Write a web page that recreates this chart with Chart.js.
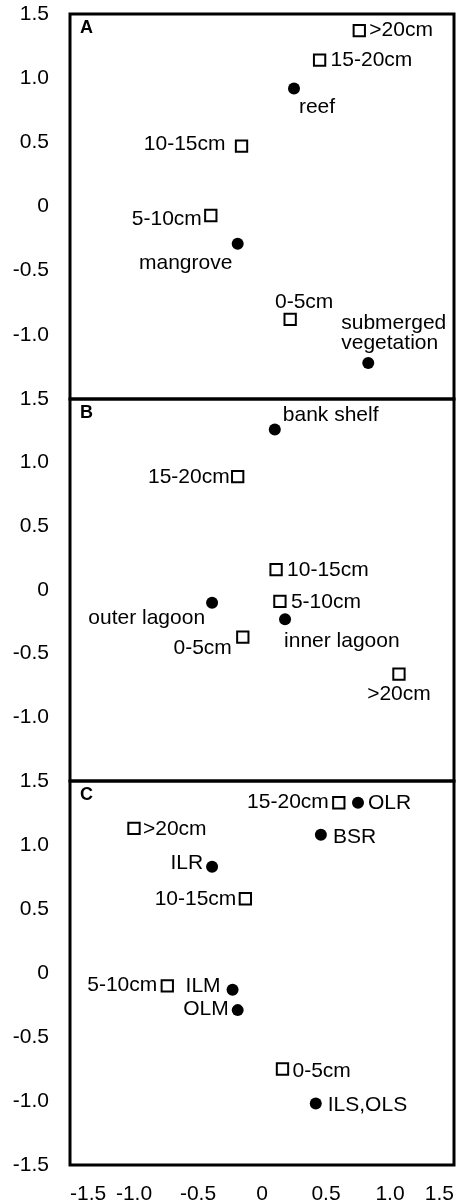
<!DOCTYPE html>
<html>
<head>
<meta charset="utf-8">
<script src="https://cdn.jsdelivr.net/npm/chart.js@4.4.0/dist/chart.umd.min.js"></script>
<style>
    body { margin: 0; background: #fff; }
    #wrap { position: relative; width: 464px; height: 1204px; overflow: hidden; }
    canvas { position: absolute; left: 0; }
</style>
</head>
<body>
<div id="wrap">
    <canvas id="chartA" width="464" height="420" style="top:0px"></canvas>
    <canvas id="chartB" width="464" height="420" style="top:380px"></canvas>
    <canvas id="chartC" width="464" height="442" style="top:762px"></canvas>
</div>
<script>
// axes
const xTicks = [-1.5, -1.0, -0.5, 0, 0.5, 1.0, 1.5];
const xTickLabels = ["-1.5", "-1.0", "-0.5", "0", "0.5", "1.0", "1.5"];
const yTicks = [-1.5, -1.0, -0.5, 0, 0.5, 1.0, 1.5];
const yTickLabels = ["-1.5", "-1.0", "-0.5", "0", "0.5", "1.0", "1.5"];

const depthLabels = ["0-5cm", "5-10cm", "10-15cm", "15-20cm", ">20cm"];

// panel A
const depthAx = [0.22, -0.40, -0.16, 0.45, 0.76];
const depthAy = [-0.88, -0.07, 0.47, 1.14, 1.37];
const habitatA = ["reef", "mangrove", "submerged\nvegetation"];
const habitatAx = [0.25, -0.19, 0.83];
const habitatAy = [0.92, -0.29, -1.22];

// panel B
const depthBx = [-0.15, 0.14, 0.11, -0.19, 1.07];
const depthBy = [-0.37, -0.09, 0.16, 0.89, -0.66];
const habitatB = ["bank shelf", "outer lagoon", "inner lagoon"];
const habitatBx = [0.10, -0.39, 0.18];
const habitatBy = [1.26, -0.10, -0.23];

// panel C
const depthCx = [0.16, -0.74, -0.13, 0.60, -1.00];
const depthCy = [-0.75, -0.10, 0.58, 1.33, 1.13];
const habitatC = ["OLR", "BSR", "ILR", "ILM", "OLM", "ILS,OLS"];
const habitatCx = [0.75, 0.46, -0.39, -0.23, -0.19, 0.42];
const habitatCy = [1.33, 1.08, 0.83, -0.13, -0.29, -1.02];

// where each label sits next to its marker: [dx, dy, align]
const depthApos = [[14, -17, "center"], [-9, 4, "right"], [-16, -2, "right"], [11, 0, "left"], [10, 0, "left"]];
const habitatApos = [[23, 19, "center"], [-52, 19, "center"], [-27, -40, "left"]];
const depthBpos = [[-11, 11, "right"], [11, 1, "left"], [11, 1, "left"], [-8, 1, "right"], [0, 20, "center"]];
const habitatBpos = [[8, -14, "left"], [-7, 15, "right"], [-1, 22, "left"]];
const depthCpos = [[10, 2, "left"], [-10, -1, "right"], [-9, 0, "right"], [-10, -1, "right"], [9, 1, "left"]];
const habitatCpos = [[10, 0, "left"], [12, 2, "left"], [-9, -4, "right"], [-12, -3, "right"], [-9, -1, "right"], [12, 2, "left"]];

const FONT = "'Liberation Sans', Arial, sans-serif";
Chart.defaults.font.family = FONT;
Chart.defaults.color = "#000";

const pointLabels = {
    id: "pointLabels",
    afterDatasetsDraw(chart, args, opts) {
        const ctx = chart.ctx;
        ctx.save();
        ctx.fillStyle = "#000";
        ctx.textBaseline = "middle";
        ctx.font = "21px " + FONT;
        chart.data.datasets.forEach(function (ds, i) {
            const meta = chart.getDatasetMeta(i);
            meta.data.forEach(function (pt, j) {
                const p = ds.labelPos[j];
                ctx.textAlign = p[2];
                ds.names[j].split("\n").forEach(function (line, k) {
                    ctx.fillText(line, pt.x + p[0], pt.y + p[1] + k * 20);
                });
            });
        });

        // frame and panel letter
        const a = chart.chartArea;
        ctx.lineWidth = 3;
        ctx.strokeStyle = "#000";
        ctx.strokeRect(a.left, a.top, a.right - a.left, a.bottom - a.top);
        ctx.font = "bold 18px " + FONT;
        ctx.textAlign = "left";
        ctx.fillText(opts.letter, a.left + 10, a.top + 14);
        ctx.restore();
    },
};

function points(xs, ys) {
    return xs.map(function (x, i) { return { x: x, y: ys[i] }; });
}

function drawPanel(id, letter, depthX, depthY, depthPos, habNames, habX, habY, habPos, pad, showX) {
    const yShown = showX ? yTicks : yTicks.slice(1);
    new Chart(document.getElementById(id), {
        type: "scatter",
        data: {
            datasets: [
                {
                    names: depthLabels,
                    labelPos: depthPos,
                    data: points(depthX, depthY),
                    pointStyle: "rect",
                    pointRadius: 8,
                    borderWidth: 2,
                    pointBorderWidth: 2,
                    borderColor: "#000",
                    backgroundColor: "#fff",
                },
                {
                    names: habNames,
                    labelPos: habPos,
                    data: points(habX, habY),
                    pointStyle: "circle",
                    pointRadius: 6,
                    borderWidth: 0,
                    borderColor: "#000",
                    backgroundColor: "#000",
                },
            ],
        },
        options: {
            responsive: false,
            animation: false,
            events: [],
            layout: { padding: { top: pad[0], bottom: pad[1], left: 0, right: 9 } },
            plugins: {
                legend: { display: false },
                tooltip: { enabled: false },
                pointLabels: { letter: letter },
            },
            scales: {
                x: {
                    type: "linear",
                    min: -1.5,
                    max: 1.5,
                    display: showX,
                    grid: { display: false, drawTicks: false },
                    border: { display: false },
                    afterBuildTicks: function (s) { s.ticks = xTicks.map(function (v) { return { value: v }; }); },
                    afterFit: function (s) {
                        s.paddingLeft = 0;
                        s.paddingRight = 0;
                        if (showX) s.height = 39;
                    },
                    ticks: {
                        color: "#000",
                        font: { size: 21 },
                        padding: 17,
                        align: "inner",
                        maxRotation: 0,
                        autoSkip: false,
                        callback: function (v) { return xTickLabels[xTicks.indexOf(v)]; },
                    },
                },
                y: {
                    type: "linear",
                    min: -1.5,
                    max: 1.5,
                    grid: { display: false, drawTicks: false },
                    border: { display: false },
                    afterBuildTicks: function (s) { s.ticks = yShown.map(function (v) { return { value: v }; }); },
                    afterFit: function (s) {
                        s.width = 70;
                        s.paddingTop = 0;
                        s.paddingBottom = 0;
                    },
                    ticks: {
                        color: "#000",
                        font: { size: 21 },
                        padding: 21,
                        autoSkip: false,
                        callback: function (v) { return yTickLabels[yTicks.indexOf(v)]; },
                    },
                },
            },
        },
        plugins: [pointLabels],
    });
}

drawPanel("chartA", "A", depthAx, depthAy, depthApos, habitatA, habitatAx, habitatAy, habitatApos, [14, 21], false);
drawPanel("chartB", "B", depthBx, depthBy, depthBpos, habitatB, habitatBx, habitatBy, habitatBpos, [19, 19], false);
drawPanel("chartC", "C", depthCx, depthCy, depthCpos, habitatC, habitatCx, habitatCy, habitatCpos, [19, 0], true);
</script>
</body>
</html>
